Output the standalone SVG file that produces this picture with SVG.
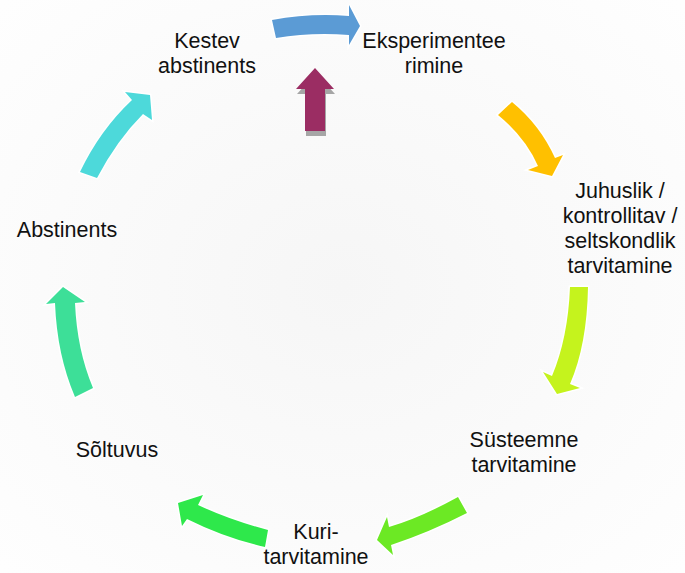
<svg xmlns="http://www.w3.org/2000/svg" width="685" height="573" viewBox="0 0 685 573">
<defs>
<radialGradient id="bg" cx="50%" cy="50%" r="70%">
<stop offset="0" stop-color="#f6f6f6"/>
<stop offset="1" stop-color="#fefefe"/>
</radialGradient>
</defs>
<style>
.lbl{font-family:"Liberation Sans",Arial,sans-serif;font-size:21.5px;fill:#111;text-anchor:middle}
.arr{stroke:#ffffff;stroke-width:3;stroke-linejoin:miter;paint-order:stroke}
</style>
<rect x="0" y="0" width="685" height="573" fill="url(#bg)"/>
<g id="connectors">
<path class="arr" fill="#5b9bd5" d="M272,20 Q310,13 349,16 L349,5 L360,26 L349,45 L349,35 Q312,32 276,38 Z"/>
<g id="up-arrow">
<path fill="#a6a6a6" d="M316,73 L335,94 L326,94 L326,136 L306,136 L306,94 L297,94 Z"/>
<path fill="#9b2d63" d="M315,68 L334,89 L325,89 L325,131 L305,131 L305,89 L296,89 Z"/>
</g>
<path class="arr" fill="#ffc000" d="M512,102 Q540,125 555,158 L563,155 L552,176 L528,170 L538,166 Q525,137 498,115 Z"/>
<path class="arr" fill="#c5f31d" d="M588,287 Q587,345 570,384 L580,388 L557,394 L543,372 L552,376 Q568,338 570,287 Z"/>
<path class="arr" fill="#6ce924" d="M458,497 Q420,518 389,527 L387,517 L377,540 L393,555 L391,545 Q430,532 467,513 Z"/>
<path class="arr" fill="#2ee84b" d="M268,530 Q230,520 198,505 L203,495 L178,503 L182,526 L187,519 Q225,538 265,547 Z"/>
<path class="arr" fill="#3ddf98" d="M55,303 Q57,355 75,397 L93,388 Q77,350 75,303 L85,302 L63,287 L46,304 Z"/>
<path class="arr" fill="#4dd9da" d="M80,172 Q100,130 132,100 L125,92 L150,95 L152,120 L143,114 Q117,140 97,178 Z"/>
</g>
<g id="node-kestev"><text class="lbl" x="207" y="48">Kestev</text><text class="lbl" x="207" y="73">abstinents</text></g>
<g id="node-eksperimentee"><text class="lbl" x="434" y="48">Eksperimentee</text><text class="lbl" x="434" y="73">rimine</text></g>
<g id="node-juhuslik"><text class="lbl" x="620" y="198">Juhuslik /</text><text class="lbl" x="620" y="223">kontrollitav /</text><text class="lbl" x="620" y="248">seltskondlik</text><text class="lbl" x="620" y="273">tarvitamine</text></g>
<g id="node-systeemne"><text class="lbl" x="524" y="447">Süsteemne</text><text class="lbl" x="524" y="472">tarvitamine</text></g>
<g id="node-kuri"><text class="lbl" x="316" y="539">Kuri-</text><text class="lbl" x="316" y="564">tarvitamine</text></g>
<g id="node-soltuvus"><text class="lbl" x="117" y="457">Sõltuvus</text></g>
<g id="node-abstinents"><text class="lbl" x="67" y="237">Abstinents</text></g>
</svg>
